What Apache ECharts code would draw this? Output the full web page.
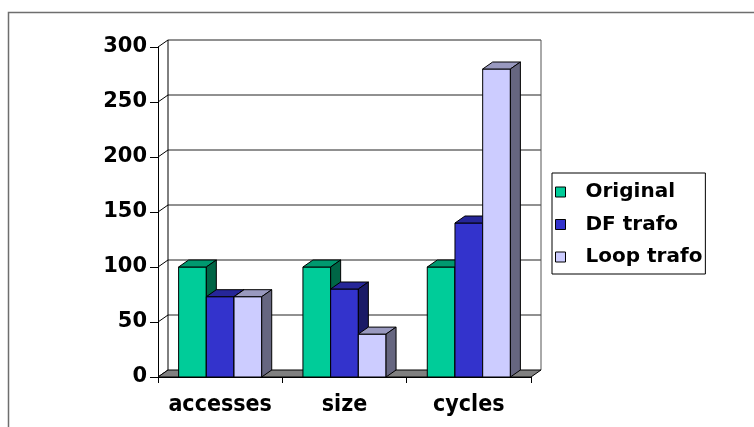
<!DOCTYPE html>
<html>
<head>
<meta charset="utf-8">
<script src="https://cdn.jsdelivr.net/npm/echarts@6/dist/echarts.min.js"></script>
<style>
  html, body { margin: 0; padding: 0; background: #fff; }
  #chart { width: 754px; height: 427px; }
</style>
</head>
<body>
<div id="chart"></div>
<script>
// Categories and series values
const categories = ['accesses', 'size', 'cycles'];
const original = [100, 100, 100];
const dfTrafo = [73, 80, 140];
const loopTrafo = [73, 39, 280];
const yTicks = [0, 50, 100, 150, 200, 250, 300];
const seriesNames = ['Original', 'DF trafo', 'Loop trafo'];

// Depth offset of the pseudo-3D box (back plane relative to front plane)
const DX = 10, DY = -7;
const BAR_FRACTION = 0.2228;

// Face colours: front, top, side
const faces = [
  { front: '#00CC99', top: '#00996F', side: '#006646' },
  { front: '#3333CC', top: '#262699', side: '#1A1A66' },
  { front: '#CCCCFF', top: '#9999BF', side: '#666680' }
];

const chart = echarts.init(document.getElementById('chart'), null, { renderer: 'canvas' });

const FONT = "'DejaVu Sans', Verdana, sans-serif";
const FONT_COND = "'DejaVu Sans Condensed', 'DejaVu Sans', sans-serif";

// Back wall gridlines plus the diagonal tick links on the left side wall
function renderFrame(params, api) {
  const cs = params.coordSys;
  const v = api.value(0);
  const y = api.coord([0, v])[1];
  const x0 = cs.x, x1 = cs.x + cs.width;
  const children = [];
  if (v > 0) {
    children.push({
      type: 'line',
      shape: { x1: x0 + DX, y1: y + DY, x2: x1 + DX, y2: y + DY },
      style: { stroke: '#222', lineWidth: 1 }
    });
  }
  children.push({
    type: 'line',
    shape: { x1: x0, y1: y, x2: x0 + DX, y2: y + DY },
    style: { stroke: '#000', lineWidth: 1 }
  });
  return { type: 'group', children: children };
}

// Floor slab and vertical edges of the back wall
function renderFloor(params, api) {
  const cs = params.coordSys;
  const x0 = cs.x, x1 = cs.x + cs.width;
  const yb = api.coord([0, 0])[1];
  const yt = api.coord([0, yTicks[yTicks.length - 1]])[1];
  return {
    type: 'group',
    children: [
      {
        type: 'line',
        shape: { x1: x0 + DX, y1: yb + DY, x2: x0 + DX, y2: yt + DY },
        style: { stroke: '#000', lineWidth: 1 }
      },
      {
        type: 'line',
        shape: { x1: x1 + DX, y1: yb + DY, x2: x1 + DX, y2: yt + DY },
        style: { stroke: '#555', lineWidth: 1 }
      },
      {
        type: 'polygon',
        shape: { points: [[x0, yb], [x1, yb], [x1 + DX, yb + DY], [x0 + DX, yb + DY]] },
        style: { fill: '#808080', stroke: '#000', lineWidth: 1 }
      }
    ]
  };
}

// One pseudo-3D bar: front face, top face, right side face
function makeBarRenderer(sIdx) {
  const c = faces[sIdx];
  return function (params, api) {
    const idx = api.value(0);
    const val = api.value(1);
    const top = api.coord([idx, val]);
    const base = api.coord([idx, 0]);
    const band = api.size([1, 0])[0];
    const w = band * BAR_FRACTION;
    const left = top[0] - 1.5 * w + sIdx * w;
    const right = left + w;
    const ty = top[1], by = base[1];
    const st = { stroke: '#000', lineWidth: 1, lineJoin: 'miter' };
    return {
      type: 'group',
      children: [
        {
          type: 'rect',
          shape: { x: left, y: ty, width: w, height: by - ty },
          style: Object.assign({ fill: c.front }, st)
        },
        {
          type: 'polygon',
          shape: { points: [[left, ty], [right, ty], [right + DX, ty + DY], [left + DX, ty + DY]] },
          style: Object.assign({ fill: c.top }, st)
        },
        {
          type: 'polygon',
          shape: { points: [[right, ty], [right + DX, ty + DY], [right + DX, by + DY], [right, by]] },
          style: Object.assign({ fill: c.side }, st)
        }
      ]
    };
  };
}

const valueSets = [original, dfTrafo, loopTrafo];

const barSeries = valueSets.map(function (vals, s) {
  return {
    name: seriesNames[s],
    type: 'custom',
    renderItem: makeBarRenderer(s),
    itemStyle: { color: faces[s].front, borderColor: '#000', borderWidth: 1 },
    encode: { x: 0, y: 1 },
    data: vals.map(function (v, i) { return [i, v]; }),
    z: 5 + s
  };
});

const option = {
  animation: false,
  backgroundColor: '#fff',
  graphic: [
    {
      type: 'rect',
      left: 6, top: 10,
      shape: { x: 0.75, y: 0.75, width: 800, height: 500 },
      style: { fill: 'none', stroke: '#6e6e6e', lineWidth: 1.5 },
      silent: true
    }
  ],
  grid: { left: 158, top: 47, width: 373, height: 330 },
  legend: {
    orient: 'vertical',
    left: 552,
    top: 173,
    data: seriesNames,
    icon: 'rect',
    itemWidth: 10,
    itemHeight: 10,
    itemGap: 12.5,
    padding: [9, 3, 7, 3],
    borderColor: '#000',
    borderWidth: 1,
    backgroundColor: '#fff',
    itemStyle: { borderColor: '#000', borderWidth: 1 },
    textStyle: {
      fontFamily: FONT,
      fontSize: 20,
      fontWeight: 'bold',
      color: '#000',
      lineHeight: 20,
      padding: [0, 0, 0, 15]
    }
  },
  xAxis: {
    type: 'category',
    data: categories,
    boundaryGap: true,
    axisLine: { lineStyle: { color: '#000', width: 1 } },
    axisTick: { show: true, length: 6, inside: false, interval: 0, lineStyle: { color: '#000' } },
    axisLabel: {
      interval: 0,
      fontFamily: FONT_COND,
      fontSize: 23,
      fontWeight: 'bold',
      color: '#000',
      margin: 17
    },
    splitLine: { show: false }
  },
  yAxis: {
    type: 'value',
    min: 0,
    max: 300,
    interval: 50,
    axisLine: { show: true, lineStyle: { color: '#000', width: 1 } },
    axisTick: { show: true, length: 8, lineStyle: { color: '#000' } },
    axisLabel: {
      fontFamily: FONT,
      fontSize: 21,
      fontWeight: 'bold',
      color: '#000',
      margin: 11
    },
    splitLine: { show: false }
  },
  series: [
    {
      type: 'custom',
      renderItem: renderFrame,
      encode: { y: 0 },
      data: yTicks.map(function (t) { return [t]; }),
      silent: true,
      z: 1
    },
    {
      type: 'custom',
      renderItem: renderFloor,
      data: [[0, 0]],
      encode: { x: 0, y: 1 },
      silent: true,
      z: 2
    }
  ].concat(barSeries)
};

chart.setOption(option);
</script>
</body>
</html>
